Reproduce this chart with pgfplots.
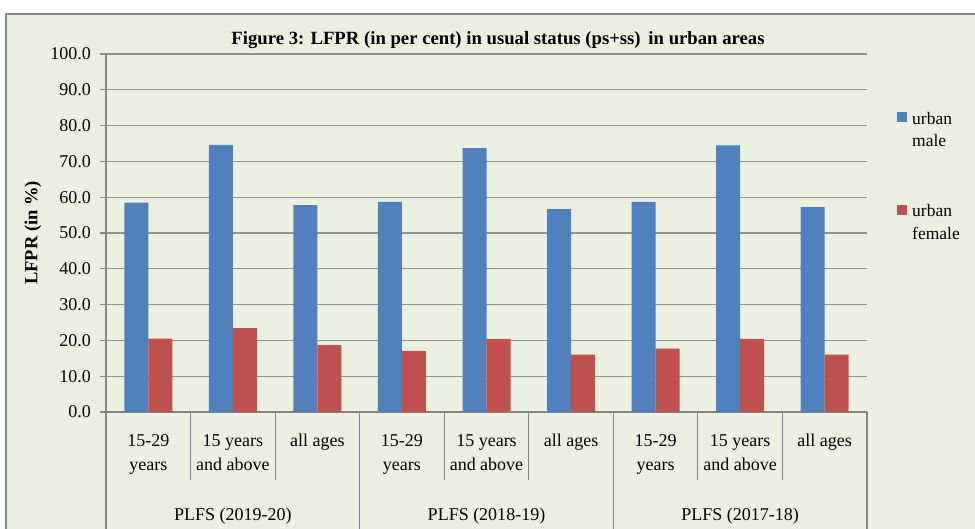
\documentclass[border=0pt]{standalone}
\usepackage{pgfplots}
\pgfplotsset{compat=1.18}
\usepackage{fontspec}
\setmainfont{Liberation Serif}
\definecolor{bg}{RGB}{236,240,224}
\definecolor{bblue}{RGB}{79,129,189}
\definecolor{bred}{RGB}{192,80,77}
\definecolor{axgray}{RGB}{134,134,134}
\definecolor{gridgray}{RGB}{145,145,145}
\begin{document}
\fontsize{18bp}{24bp}\selectfont
\begin{tikzpicture}
\path[use as bounding box] (0bp,0bp) rectangle (975bp,529bp);
\fill[white] (0bp,0bp) rectangle (975bp,529bp);
\fill[bg] (6bp,-5bp) rectangle (985bp,515bp);
\draw[axgray, line width=1.5bp] (6bp,-5bp) -- (6bp,515bp) -- (985bp,515bp);
\begin{axis}[
  at={(106bp,117bp)}, anchor=south west,
  scale only axis, width=761bp, height=358bp,
  ybar=0pt, bar width=24bp,
  xmin=-0.5, xmax=8.5, ymin=0, ymax=100,
  xtick=\empty,
  ytick={0,10,...,100},
  yticklabel style={font=\fontsize{18bp}{22bp}\selectfont, xshift=-3bp,
    /pgf/number format/fixed, /pgf/number format/fixed zerofill,
    /pgf/number format/precision=1, /pgf/number format/assume math mode=true},
  ymajorgrids, grid style={gridgray, line width=1.3bp},
  axis x line*=bottom, axis y line*=left,
  axis line style={axgray, line width=1.5bp},
  tick style={axgray, line width=1.2bp},
  tick align=outside, major tick length=6bp, ytick pos=left,
  clip=false,
]
\addplot[fill=bblue, draw=none] coordinates {(0,58.5) (1,74.6) (2,57.8) (3,58.7) (4,73.7) (5,56.7) (6,58.7) (7,74.5) (8,57.2)};
\addplot[fill=bred, draw=none] coordinates {(0,20.5) (1,23.4) (2,18.7) (3,17.1) (4,20.4) (5,16.0) (6,17.7) (7,20.4) (8,16.0)};
% dividers
\pgfplotsinvokeforeach{0.5,1.5,3.5,4.5,6.5,7.5}{\draw[axgray, line width=1.2bp] (axis cs:#1,0) -- ++(0bp,-68bp);}
\pgfplotsinvokeforeach{-0.5,2.5,5.5,8.5}{\draw[axgray, line width=1.2bp] (axis cs:#1,0) -- ++(0bp,-125bp);}
% category labels
\tikzset{cat/.style={anchor=north, align=center, inner sep=0pt, yshift=-22bp, font=\fontsize{18bp}{24bp}\selectfont}}
\node[cat] at (axis cs:0,0) {15-29\\years};
\node[cat] at (axis cs:1,0) {15 years\\and above};
\node[cat] at (axis cs:2,0) {all ages};
\node[cat] at (axis cs:3,0) {15-29\\years};
\node[cat] at (axis cs:4,0) {15 years\\and above};
\node[cat] at (axis cs:5,0) {all ages};
\node[cat] at (axis cs:6,0) {15-29\\years};
\node[cat] at (axis cs:7,0) {15 years\\and above};
\node[cat] at (axis cs:8,0) {all ages};
\tikzset{grp/.style={anchor=base, inner sep=0pt, yshift=-108bp, font=\fontsize{18bp}{24bp}\selectfont}}
\node[grp] at (axis cs:1,0) {PLFS (2019-20)};
\node[grp] at (axis cs:4,0) {PLFS (2018-19)};
\node[grp] at (axis cs:7,0) {PLFS (2017-18)};
\end{axis}
% title and y label
\node[font=\fontsize{18.7bp}{22bp}\selectfont\bfseries] at (498bp,489bp) {Figure 3: LFPR (in per cent) in usual status (ps+ss)\, in urban areas};
\node[rotate=90, font=\fontsize{18.5bp}{22bp}\selectfont\bfseries] at (33bp,296bp) {LFPR (in \%)};
% legend
\fill[bblue] (897bp,407bp) rectangle (907bp,417bp);
\node[anchor=base west, inner sep=0pt, font=\fontsize{17.5bp}{20bp}\selectfont] at (912bp,404bp) {urban};
\node[anchor=base west, inner sep=0pt, font=\fontsize{17.5bp}{20bp}\selectfont] at (912bp,382bp) {male};
\fill[bred] (897bp,314bp) rectangle (907bp,324bp);
\node[anchor=base west, inner sep=0pt, font=\fontsize{17.5bp}{20bp}\selectfont] at (912bp,312bp) {urban};
\node[anchor=base west, inner sep=0pt, font=\fontsize{17.5bp}{20bp}\selectfont] at (912bp,289bp) {female};
\end{tikzpicture}
\end{document}
